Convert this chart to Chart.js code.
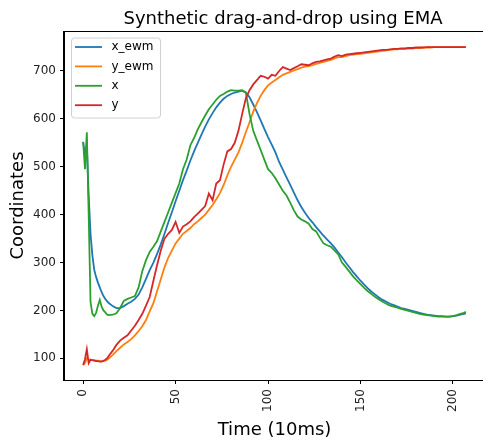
<!DOCTYPE html>
<html>
<head>
<meta charset="utf-8">
<script src="https://cdn.jsdelivr.net/npm/chart.js@4/dist/chart.umd.min.js"></script>
<style>
  html, body { margin: 0; padding: 0; background: #fff; overflow: hidden; }
  #wrap { width: 490px; height: 443px; position: relative; }
</style>
</head>
<body>
<div id="wrap"><canvas id="Chart1"></canvas></div>
<script>
// time steps (10ms)
const time = [0, 1, 2, 3, 4, 5, 6, 7, 8, 9, 10, 11, 12, 13, 14,
    16, 18, 20, 22, 24, 26, 28, 30, 32, 34,
    36, 38, 40, 42, 44, 46, 48, 50, 52, 54,
    56, 58, 60, 62, 64, 66, 68, 70, 72, 74,
    76, 78, 80, 82, 84, 86, 88, 90, 92, 94,
    96, 98, 100, 102, 104, 106, 108, 110, 112, 114,
    116, 118, 120, 122, 124, 126, 128, 130, 132, 134,
    136, 138, 140, 142, 144, 146, 148, 150, 152, 154,
    156, 158, 160, 162, 164, 166, 168, 170, 172, 174,
    176, 178, 180, 182, 184, 186, 188, 190, 192, 194,
    196, 198, 200, 202, 204, 206, 207];

const x_ewm = [552, 525, 545, 440, 360, 315, 285, 270, 258, 248, 238, 230, 224, 219, 215,
    209, 205, 205, 209, 214, 218, 224, 233, 248, 266,
    284, 300, 318, 338, 360, 383, 405, 428, 450, 472,
    492, 513, 532, 550, 567, 584, 599, 612, 624, 634,
    642, 648, 652, 655, 657, 659, 655, 645, 630, 614,
    597, 579, 562, 546, 530, 510, 494, 478, 462, 446,
    430, 416, 404, 393, 384, 374, 365, 356, 348, 340,
    331, 321, 311, 300, 290, 280, 271, 262, 254, 246,
    239, 233, 227, 222, 218, 214, 211, 208, 205, 203,
    201, 199, 197, 195, 193, 191, 190, 189, 188, 188,
    187, 187, 188, 189, 191, 193, 194];

const y_ewm = [86, 90, 100, 97, 97, 96, 96, 95, 95, 94, 94, 94, 95, 97, 100,
    107, 115, 122, 129, 134, 140, 148, 157, 167, 180,
    198, 215, 240, 265, 290, 310, 325, 340, 350, 360,
    366, 372, 380, 386, 393, 400, 410, 420, 432, 445,
    462, 482, 500, 515, 530, 550, 572, 593, 615, 633,
    648, 660, 670, 676, 681, 687, 692, 695, 698, 701,
    704, 707, 709, 710, 712, 715, 717, 719, 721, 723,
    726, 729, 729, 731, 733, 734, 735, 736, 737, 738,
    739, 740, 741, 742, 743, 744, 745, 745, 746, 746,
    747, 747, 748, 748, 749, 749, 749, 750, 750, 750,
    750, 750, 750, 750, 750, 750, 750];

const x_raw = [552, 495, 572, 400, 218, 193, 188, 195, 210, 222, 208, 200, 196, 191, 190,
    191, 194, 205, 220, 224, 227, 230, 248, 282, 305,
    322, 333, 345, 365, 385, 405, 425, 445, 465, 495,
    515, 545, 560, 578, 593, 607, 620, 630, 640, 648,
    652, 657, 660, 659, 659, 660, 655, 610, 575, 555,
    535, 515, 495, 487, 476, 463, 450, 440, 425, 409,
    396, 390, 386, 381, 370, 365, 352, 340, 336, 333,
    325, 317, 300, 291, 281, 271, 263, 255, 247, 240,
    234, 228, 223, 218, 214, 210, 208, 206, 203, 201,
    199, 197, 195, 193, 191, 190, 189, 188, 187, 187,
    187, 187, 188, 190, 193, 195, 197];

const y_raw = [86, 98, 119, 90, 97, 96, 95, 94, 94, 93, 93, 95, 97, 100, 106,
    116, 128, 137, 143, 148, 158, 168, 180, 193, 210,
    228, 262, 295, 325, 350, 360, 368, 385, 362, 375,
    380, 386, 395, 402, 410, 418, 444, 430, 465, 472,
    505, 532, 537, 550, 575, 610, 643, 660, 672, 681,
    690, 688, 684, 692, 690, 700, 708, 705, 702, 706,
    710, 714, 713, 712, 716, 719, 720, 722, 724, 726,
    730, 733, 731, 734, 735, 736, 737, 738, 739, 740,
    741, 742, 743, 744, 744, 745, 746, 746, 747, 747,
    748, 748, 749, 749, 749, 750, 750, 750, 750, 750,
    750, 750, 750, 750, 750, 750, 750];

const series_labels = ['x_ewm', 'y_ewm', 'x', 'y'];
const series_colors = ['#1f77b4', '#ff7f0e', '#2ca02c', '#d62728'];
const series_values = [x_ewm, y_ewm, x_raw, y_raw];

const FONT = "'DejaVu Sans', sans-serif";

function to_points(values) {
    return values.map((v, i) => ({x: time[i], y: v}));
}

// title + legend box + spines, drawn like matplotlib
const mpl_extras = {
    id: 'mpl_extras',
    afterDatasetsDraw(chart) {
        const ctx = chart.ctx;
        const a = chart.chartArea;
        ctx.save();
        // spines
        ctx.strokeStyle = '#000';
        ctx.lineWidth = 1;
        ctx.strokeRect(Math.round(a.left) - 0.5, Math.round(a.top) + 0.5,
            Math.round(a.right - a.left) + 1, Math.round(a.bottom - a.top));
        // legend
        let bx = 71, by = 37.5, bw = 89, bh = 80;
        ctx.beginPath();
        ctx.roundRect(bx + 0.5, by + 0.5, bw, bh, 3);
        ctx.fillStyle = 'rgba(255,255,255,0.8)';
        ctx.fill();
        ctx.strokeStyle = '#d0d0d0';
        ctx.stroke();
        ctx.font = '12px ' + FONT;
        ctx.textBaseline = 'middle';
        ctx.textAlign = 'left';
        for (let i = 0; i < series_labels.length; i++) {
            let ry = 47 + i * 19.4;
            ctx.strokeStyle = series_colors[i];
            ctx.lineWidth = 1.8;
            ctx.beginPath();
            ctx.moveTo(75, ry);
            ctx.lineTo(102, ry);
            ctx.stroke();
            ctx.fillStyle = '#000';
            ctx.fillText(series_labels[i], 111.5, ry);
        }
        // title
        ctx.font = '18px ' + FONT;
        ctx.textAlign = 'center';
        ctx.textBaseline = 'alphabetic';
        ctx.fillStyle = '#000';
        ctx.fillText('Synthetic drag-and-drop using EMA', 283, 23.5);
        ctx.restore();
    }
};

let datasets = series_labels.map((label, i) => ({
    label: label,
    data: to_points(series_values[i]),
    borderColor: series_colors[i],
    backgroundColor: series_colors[i],
    borderWidth: 1.8,
    pointRadius: 0,
    tension: 0,
    fill: false,
    order: 4 - i
}));

new Chart(document.getElementById('Chart1'), {
    type: 'line',
    data: {datasets: datasets},
    plugins: [mpl_extras],
    options: {
        responsive: true,
        maintainAspectRatio: false,
        devicePixelRatio: 1,
        animation: false,
        layout: {padding: {top: 31, left: 0, right: 5, bottom: 0}},
        plugins: {
            legend: {display: false},
            title: {display: false},
            tooltip: {enabled: false}
        },
        scales: {
            x: {
                type: 'linear',
                min: -10.35,
                max: 217.35,
                afterFit: (scale) => { scale.height = 63; },
                grid: {drawOnChartArea: false, drawTicks: true, tickLength: 4, color: '#000'},
                border: {display: true, color: '#000'},
                ticks: {
                    stepSize: 50,
                    includeBounds: false,
                    minRotation: 90,
                    maxRotation: 90,
                    padding: 5,
                    color: '#222',
                    font: {family: FONT, size: 12}
                },
                title: {
                    display: true,
                    text: 'Time (10ms)',
                    color: '#000',
                    font: {family: FONT, size: 18},
                    padding: {top: 0, bottom: 2}
                }
            },
            y: {
                min: 54.7,
                max: 783.5,
                afterFit: (scale) => { scale.width = 64; },
                grid: {drawOnChartArea: false, drawTicks: true, tickLength: 4, color: '#000'},
                border: {display: true, color: '#000'},
                ticks: {
                    stepSize: 100,
                    includeBounds: false,
                    padding: 4,
                    color: '#222',
                    font: {family: FONT, size: 12}
                },
                title: {
                    display: true,
                    text: 'Coordinates',
                    color: '#000',
                    font: {family: FONT, size: 18},
                    padding: {top: 8, bottom: 0}
                }
            }
        }
    }
});
</script>
</body>
</html>
